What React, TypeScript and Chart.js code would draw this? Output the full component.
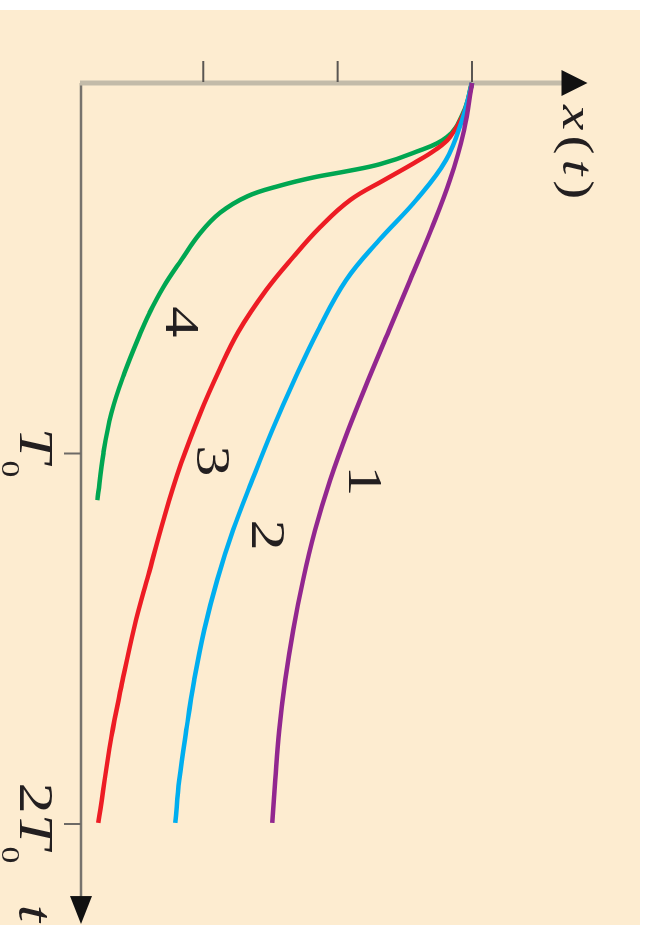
import React, { useEffect, useRef } from "react";
import { Chart, registerables } from "chart.js";

Chart.register(...registerables);

// ---- data (t in units of T0, x in tick units) ----
const curveNames = ["1", "2", "3", "4"];
const curveColors = ["#92278f", "#00aeef", "#ed1c24", "#00a651"];

const t1 = [0, 0.127, 0.262, 0.397, 0.532, 0.667, 0.802, 0.937, 1.072, 1.206, 1.341, 1.476, 1.611, 1.746, 1.881, 1.997];
const x1 = [3.0, 2.941, 2.836, 2.695, 2.539, 2.383, 2.227, 2.078, 1.944, 1.833, 1.743, 1.669, 1.61, 1.565, 1.535, 1.513];

const t2 = [0, 0.1, 0.208, 0.316, 0.424, 0.532, 0.667, 0.802, 0.937, 1.072, 1.206, 1.341, 1.476, 1.611, 1.746, 1.881, 1.997];
const x2 = [3.0, 2.926, 2.807, 2.584, 2.309, 2.063, 1.855, 1.677, 1.513, 1.364, 1.223, 1.104, 1.007, 0.933, 0.874, 0.822, 0.792];

const t3 = [0, 0.073, 0.146, 0.181, 0.216, 0.262, 0.316, 0.389, 0.47, 0.559, 0.672, 0.775, 0.891, 1.026, 1.171, 1.328, 1.468, 1.63, 1.765, 1.997];
const x3 = [3.0, 2.948, 2.836, 2.725, 2.569, 2.346, 2.093, 1.87, 1.669, 1.468, 1.26, 1.119, 0.978, 0.836, 0.71, 0.591, 0.487, 0.39, 0.316, 0.219];

const t4 = [0, 0.081, 0.146, 0.189, 0.219, 0.238, 0.255, 0.277, 0.306, 0.35, 0.405, 0.478, 0.551, 0.621, 0.675, 0.783, 0.891, 0.999, 1.126];
const x4 = [3.0, 2.933, 2.814, 2.561, 2.316, 2.071, 1.818, 1.572, 1.327, 1.126, 0.978, 0.836, 0.703, 0.599, 0.532, 0.413, 0.316, 0.257, 0.212];

const curveT = [t1, t2, t3, t4];
const curveX = [x1, x2, x3, x4];

// curve number labels (data coordinates)
const labelT = [1.074, 1.22, 1.02, 0.645];
const labelX = [2.18, 1.46, 1.05, 0.82];

// axis ticks
const tTickValues = [1, 2];
const tTickCoef = ["", "2"];
const tTickSymbol = "T";
const tTickSub = "0";
const xTickValues = [1, 2, 3];
const tAxisEnd = 2.27;
const xAxisEnd = 3.86;
const xAxisTitle = ["x", "(", "t", ")"];
const tAxisTitle = "t";

const SERIF = "'Liberation Serif', 'DejaVu Serif', serif";
const STRETCH = 1.3;
const INK = "#231f20";

function drawStretched(ctx: CanvasRenderingContext2D, text: string, x: number, y: number, font: string) {
  ctx.save();
  ctx.font = font;
  ctx.translate(x, y);
  ctx.scale(STRETCH, 1);
  ctx.fillText(text, 0, 0);
  ctx.restore();
}
function widthOf(ctx: CanvasRenderingContext2D, text: string, font: string) {
  ctx.font = font;
  return ctx.measureText(text).width * STRETCH;
}

const axesPlugin = {
  id: "rotatedAxes",
  beforeDatasetsDraw(chart: any) {
    const { ctx, scales } = chart;
    const xs = scales.x;
    const ys = scales.y;
    const ox = xs.getPixelForValue(0);
    const oy = ys.getPixelForValue(ys.min);
    const xTip = ys.getPixelForValue(xAxisEnd);
    const tTip = xs.getPixelForValue(tAxisEnd);
    ctx.save();
    // t axis (thin, dark)
    ctx.strokeStyle = "#77736d";
    ctx.lineWidth = 2.5;
    ctx.beginPath();
    ctx.moveTo(ox, oy);
    ctx.lineTo(tTip - 26, oy);
    ctx.stroke();
    // x axis (thick, light)
    ctx.strokeStyle = "#c3bba9";
    ctx.lineWidth = 5;
    ctx.beginPath();
    ctx.moveTo(ox, oy + 1);
    ctx.lineTo(ox, xTip + 24);
    ctx.stroke();
    // ticks on x axis
    ctx.strokeStyle = "#5a5652";
    ctx.lineWidth = 2;
    xTickValues.forEach((v) => {
      const p = ys.getPixelForValue(v);
      ctx.beginPath();
      ctx.moveTo(ox - 1, p);
      ctx.lineTo(ox - 22, p);
      ctx.stroke();
    });
    // ticks on t axis
    ctx.strokeStyle = "#6d6a66";
    tTickValues.forEach((v) => {
      const p = xs.getPixelForValue(v);
      ctx.beginPath();
      ctx.moveTo(p, oy);
      ctx.lineTo(p, oy + 17);
      ctx.stroke();
    });
    // arrows
    ctx.fillStyle = "#111";
    ctx.beginPath();
    ctx.moveTo(ox, xTip);
    ctx.lineTo(ox - 13, xTip + 26);
    ctx.lineTo(ox + 13, xTip + 26);
    ctx.closePath();
    ctx.fill();
    ctx.beginPath();
    ctx.moveTo(tTip, oy);
    ctx.lineTo(tTip - 28, oy - 11);
    ctx.lineTo(tTip - 28, oy + 11);
    ctx.closePath();
    ctx.fill();
    ctx.restore();
  },
  afterDatasetsDraw(chart: any) {
    const { ctx, scales } = chart;
    const xs = scales.x;
    const ys = scales.y;
    const ox = xs.getPixelForValue(0);
    const oy = ys.getPixelForValue(ys.min);
    const xTip = ys.getPixelForValue(xAxisEnd);
    const tTip = xs.getPixelForValue(tAxisEnd);
    ctx.save();
    ctx.fillStyle = INK;
    ctx.textAlign = "left";
    ctx.textBaseline = "alphabetic";
    const fMainI = `italic 48px ${SERIF}`;
    const fMain = `48px ${SERIF}`;
    const fSub = `26px ${SERIF}`;
    // t tick labels
    tTickValues.forEach((v, i) => {
      const p = xs.getPixelForValue(v);
      const w1 = widthOf(ctx, tTickCoef[i], fMain);
      const w2 = widthOf(ctx, tTickSymbol, fMainI);
      const w3 = widthOf(ctx, tTickSub, fSub);
      let u = p - (w1 + w2 + w3) / 2;
      drawStretched(ctx, tTickCoef[i], u, oy + 61, fMain);
      u += w1;
      drawStretched(ctx, tTickSymbol, u, oy + 61, fMainI);
      u += w2;
      drawStretched(ctx, tTickSub, u - 2, oy + 79, fSub);
    });
    // x axis title
    let u = ox + 22;
    xAxisTitle.forEach((ch) => {
      const f = ch === "x" || ch === "t" ? `italic 44px ${SERIF}` : `44px ${SERIF}`;
      drawStretched(ctx, ch, u, xTip + 25, f);
      u += widthOf(ctx, ch, f) + 5;
    });
    // t axis title
    const fT = `italic 48px ${SERIF}`;
    const wt = widthOf(ctx, tAxisTitle, fT);
    drawStretched(ctx, tAxisTitle, tTip - wt - 2, oy + 62, fT);
    // curve labels
    ctx.textAlign = "center";
    ctx.textBaseline = "middle";
    curveNames.forEach((n, i) => {
      drawStretched(ctx, n, xs.getPixelForValue(labelT[i]), ys.getPixelForValue(labelX[i]), fMain);
    });
    ctx.restore();
  },
};

export default function App() {
  const ref = useRef<HTMLCanvasElement>(null);
  useEffect(() => {
    const canvas = ref.current;
    if (!canvas) return;
    const chart = new Chart(canvas, {
      type: "line",
      data: {
        datasets: curveNames.map((name, i) => ({
          label: name,
          data: curveT[i].map((t, j) => ({ x: t, y: curveX[i][j] })),
          borderColor: curveColors[i],
          backgroundColor: curveColors[i],
          borderWidth: 4.5,
          pointRadius: 0,
          fill: false,
          tension: 0.4,
          clip: false as any,
          borderCapStyle: "butt" as const,
          borderJoinStyle: "round" as const,
        })),
      },
      options: {
        responsive: false,
        animation: false,
        devicePixelRatio: 1,
        layout: { padding: { left: 73, right: 101, top: 168, bottom: 81 } },
        plugins: { legend: { display: false }, tooltip: { enabled: false } },
        events: [],
        scales: {
          x: { type: "linear", min: 0, max: 2, display: false },
          y: { type: "linear", min: 0.09, max: 3, display: false },
        },
      },
      plugins: [axesPlugin],
    });
    return () => chart.destroy();
  }, []);
  return (
    <div style={{ position: "fixed", left: 0, top: 0, width: 646, height: 925, background: "#ffffff", overflow: "hidden" }}>
      <div
        style={{
          position: "absolute",
          left: 0,
          top: 10,
          width: 915,
          height: 640,
          background: "#fdecd0",
          transformOrigin: "0 0",
          transform: "translateX(640px) rotate(90deg)",
        }}
      >
        <canvas ref={ref} width={915} height={640} style={{ display: "block", width: 915, height: 640 }} />
      </div>
    </div>
  );
}
